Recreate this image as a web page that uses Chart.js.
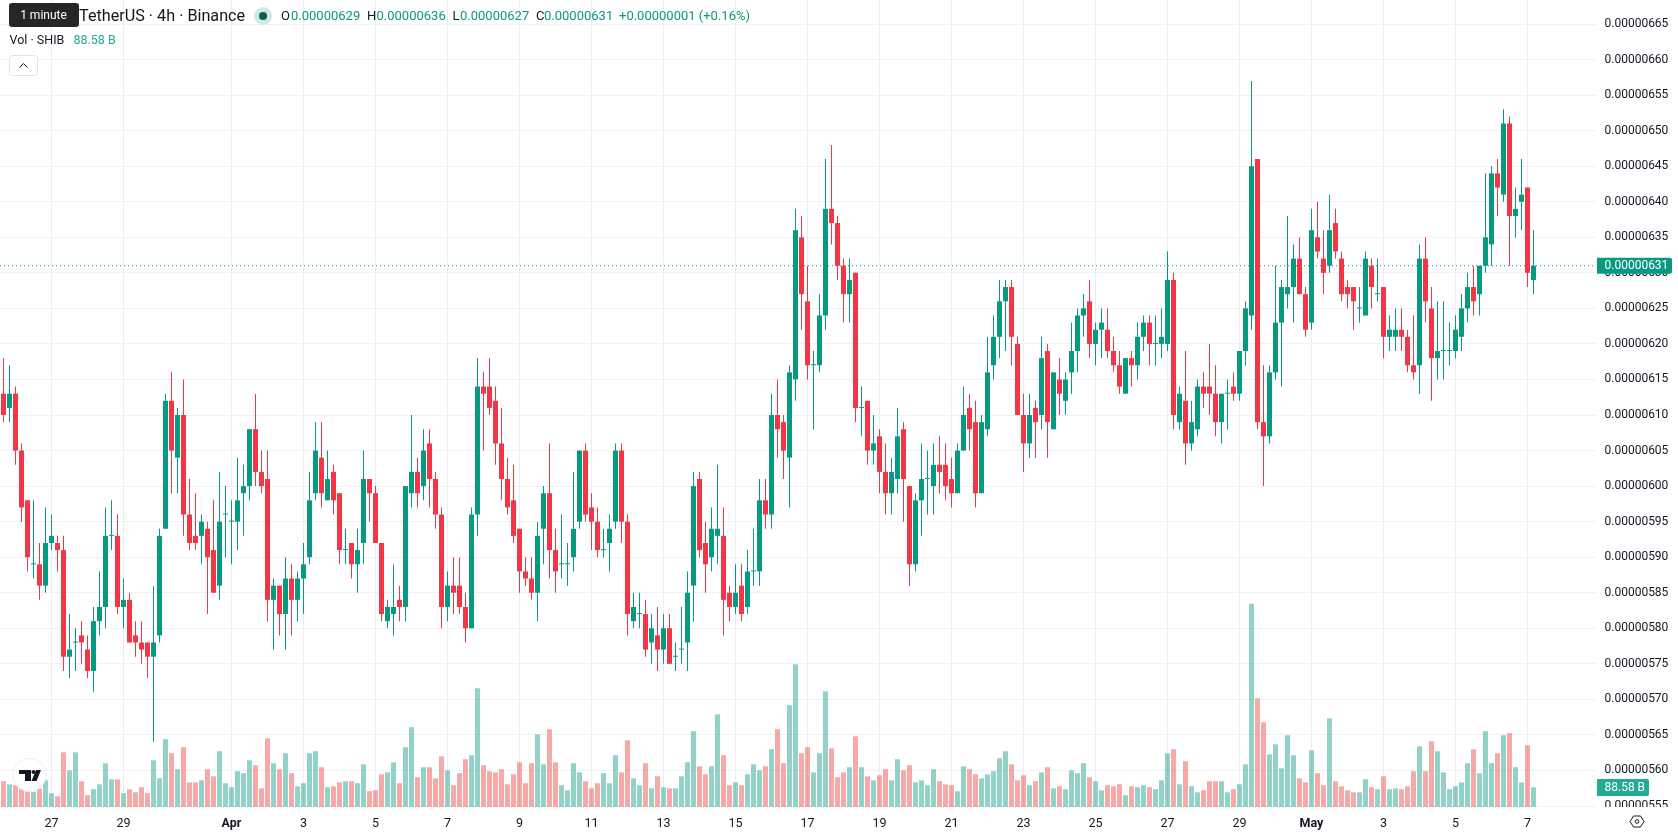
<!DOCTYPE html>
<html>
<head>
<meta charset="utf-8">
<title>SHIB / TetherUS 4h</title>
<script src="https://cdn.jsdelivr.net/npm/chart.js@4/dist/chart.umd.min.js"></script>
<style>
    html, body { margin: 0; padding: 0; background: #fff; overflow: hidden; }
    #wrap { position: relative; width: 1678px; height: 835px; }
</style>
</head>
<body>
<div id="wrap"><canvas id="candleChart"></canvas></div>
<script>
// prices are in units of 0.00000001 USDT, one entry per 4h candle
const opens = [
    613,611,613,605,598,589,589,586,592,592, 591,576,578,579,577,574,581,583,593,593,
    583,584,579,578,578,576,579,594,612,604, 610,596,593,593,594,591,586,596,595,595,
    599,600,608,602,601,584,586,582,587,584, 587,590,599,604,598,602,599,591,592,589,
    592,601,599,592,581,582,584,583,599,602, 600,606,601,596,583,586,586,583,580,596,
    614,614,612,606,601,598,594,588,587,585, 594,599,591,589,589,590,595,605,597,595,
    591,592,595,605,595,581,582,582,578,579, 577,580,576,577,578,586,601,592,590,593,
    593,585,583,586,583,588,588,598,596,610, 609,604,615,635,626,617,617,624,639,637,
    631,627,630,611,612,605,607,602,599,601, 608,600,589,598,601,600,603,603,601,599,
    605,611,609,599,608,617,621,626,628,620, 610,606,611,610,619,608,615,612,616,619,
    624,626,620,622,622,619,617,613,618,617, 621,623,620,620,620,629,609,612,606,608,
    614,614,613,609,613,614,613,619,624,646, 609,607,616,623,627,628,632,627,623,635,
    632,631,637,632,628,628,625,624,631,627, 628,621,621,622,621,617,617,632,625,618,
    619,619,619,621,625,628,627,631,634,644, 641,651,638,640,642,629
];
const highs = [
    618,617,614,606,598,598,592,597,596,593, 593,582,580,581,579,583,588,597,598,596,
    587,585,581,581,578,586,594,613,616,611, 615,601,599,596,595,598,602,600,598,604,
    603,608,613,605,605,587,586,590,589,588, 592,602,609,609,605,603,599,594,592,594,
    605,601,600,592,584,589,586,600,610,604, 608,608,602,597,588,590,590,585,597,618,
    616,618,614,611,604,603,594,590,590,595, 600,606,594,596,592,602,605,606,599,597,
    594,596,606,606,596,585,585,584,582,583, 582,582,578,583,588,602,602,595,597,603,
    597,586,589,589,591,594,601,601,613,615, 610,617,639,638,631,619,627,646,648,638,
    632,632,630,614,612,610,608,606,604,611, 609,600,599,606,605,606,607,606,604,606,
    614,613,612,610,621,624,629,629,629,621, 613,613,612,621,620,616,618,616,623,625,
    627,629,623,625,625,621,619,618,619,623, 624,624,624,625,633,630,614,619,612,615,
    616,620,617,613,615,616,619,626,657,646, 617,617,631,629,638,634,635,628,639,640,
    636,641,639,633,629,628,628,633,632,632, 628,624,625,625,622,624,634,635,628,626,
    626,623,624,627,630,631,631,644,645,646, 653,652,642,646,642,636
];
const lows = [
    609,609,603,595,588,587,584,585,591,588, 574,573,574,575,573,571,579,580,591,582,
    580,578,576,575,573,564,578,594,599,599, 593,591,591,589,582,585,584,590,589,591,
    593,598,600,599,581,577,579,577,579,581, 582,589,598,597,598,596,589,589,587,585,
    589,595,592,581,580,579,581,581,597,597, 598,597,594,580,581,582,582,578,580,593,
    605,610,603,598,596,592,585,586,584,581, 589,587,585,587,586,588,594,595,591,590,
    590,588,594,592,579,580,580,576,575,574, 575,575,574,575,574,581,590,585,588,589,
    579,581,582,581,582,586,586,594,594,604, 601,597,612,622,615,608,616,622,634,629,
    623,623,609,607,603,603,599,596,596,599, 595,586,588,593,596,596,599,598,597,599,
    605,605,597,599,607,615,618,619,617,610, 602,604,604,608,604,608,610,610,613,616,
    621,618,617,618,618,616,613,613,614,615, 619,617,617,618,619,608,608,603,605,607,
    611,610,607,606,608,612,612,617,622,608, 600,606,615,614,625,623,627,621,622,632,
    627,630,632,626,625,622,623,624,625,626, 618,619,619,619,616,615,613,623,612,615,
    615,617,618,619,623,624,624,630,631,638, 640,631,635,636,628,627
];
const closes = [
    610,613,605,597,590,589,586,592,593,591, 576,577,578,578,574,581,583,593,593,583,
    584,578,578,577,576,578,593,612,605,610, 596,592,592,595,590,585,595,596,595,598,
    600,608,602,600,584,586,582,587,584,587, 589,598,605,599,601,598,591,591,589,591,
    601,599,592,582,583,583,583,600,602,599, 605,601,596,583,586,585,583,580,596,614,
    613,611,606,601,597,593,588,587,585,593, 599,591,588,589,589,594,605,596,595,591,
    591,594,605,595,582,583,582,577,580,577, 580,575,576,577,585,600,591,589,594,594,
    584,583,585,582,588,588,598,596,610,608, 605,616,636,627,617,617,624,639,637,631,
    627,629,611,611,605,606,602,599,602,607, 601,589,598,601,601,603,602,600,599,605,
    610,608,599,609,616,621,626,628,621,610, 606,610,609,618,609,616,613,615,619,624,
    625,620,622,623,619,617,614,618,617,621, 623,620,620,621,629,610,613,606,609,614,
    613,613,609,613,613,613,619,625,645,609, 607,616,623,628,628,632,627,622,636,633,
    630,636,633,627,627,626,625,632,628,627, 621,622,622,621,617,616,632,626,618,619,
    619,619,622,625,628,626,631,635,644,642, 651,638,639,641,630,631
];
// volume in billions of SHIB
const volumes = [
    116,102,98,90,83,68,83,120,62,48, 246,165,246,116,53,80,102,197,125,125,
    62,80,66,89,62,210,129,305,242,170, 269,111,111,120,170,138,251,107,89,161,
    152,210,188,84,309,197,170,242,152,93, 107,242,251,179,89,93,111,116,116,107,
    192,71,75,147,156,201,107,269,359,134, 179,179,129,228,165,98,152,215,233,534,
    188,161,156,170,102,147,201,107,197,327, 192,350,201,98,75,197,156,116,84,107,
    152,107,233,156,300,129,98,197,84,138, 89,84,84,138,201,341,183,147,183,417,
    233,98,111,98,147,192,165,183,260,350, 197,458,642,242,269,156,242,521,264,134,
    156,179,318,179,138,120,143,170,120,215, 165,188,111,120,98,170,116,102,98,71,
    183,170,147,129,147,161,219,251,192,120, 143,98,116,156,179,84,93,80,165,152,
    197,134,116,75,98,93,102,53,93,89, 98,89,80,120,242,260,102,206,93,66,
    75,116,116,116,66,80,102,192,914,489, 381,237,282,174,323,233,129,111,255,152,
    98,399,116,93,75,66,66,125,89,80, 138,80,84,80,93,161,273,161,296,251,
    156,80,93,111,197,260,152,341,197,242, 323,332,179,111,278,88.58
];

// candle index under each time axis label
const tickIndexes = [8, 20, 38, 50, 62, 74, 86, 98, 110, 122, 134, 146, 158, 170, 182, 194, 206, 218, 230, 242, 254];
const tickLabels = ["27", "29", "Apr", "3", "5", "7", "9", "11", "13", "15", "17", "19", "21", "23", "25", "27", "29", "May", "3", "5", "7"];
const boldLabels = ["Apr", "May"];

const legendOHLC = ["0.00000629", "0.00000636", "0.00000627", "0.00000631"];
const legendChange = "+0.00000001 (+0.16%)";
const lastVolumeLabel = "88.58 B";

const UP = "#089981";
const DOWN = "#F23645";
const FONT = "Roboto, sans-serif";
const TEXT = "#131722";

const isUp = i => closes[i] >= opens[i];
const candleColors = opens.map((o, i) => isUp(i) ? UP : DOWN);
const volumeColors = opens.map((o, i) => isUp(i) ? "rgba(8,153,129,0.44)" : "rgba(238,76,72,0.48)");

const wicks = opens.map((o, i) => ({ x: i, y: [lows[i], highs[i]] }));
const bodies = opens.map((o, i) => ({ x: i, y: [Math.min(o, closes[i]), Math.max(o, closes[i])] }));
const volumeBars = volumes.map((v, i) => ({ x: i, y: v }));

const formatPrice = v => (v / 1e8).toFixed(8);

// chart area stops at these pixels, the rest belongs to the axes
const PRICE_AXIS_WIDTH = 82;
const TIME_AXIS_HEIGHT = 28;
const X_MIN = -3.5 / 6;
const X_MAX = (1596 - 3.5) / 6;

// wipes the band below the plot so the lowest price label is cut off there
const axisStrip = {
    id: "axisStrip",
    beforeDatasetsDraw(chart) {
        const { ctx, chartArea, width, height } = chart;
        ctx.save();
        ctx.fillStyle = "#fff";
        ctx.fillRect(0, chartArea.bottom, width, height - chartArea.bottom);
        ctx.restore();
    }
};

const drawText = (ctx, text, x, y, color, font) => {
    ctx.font = font;
    ctx.fillStyle = color;
    ctx.fillText(text, x, y);
};

const roundBox = (ctx, x, y, w, h, radii, color) => {
    ctx.beginPath();
    ctx.roundRect(x, y, w, h, radii);
    ctx.fillStyle = color;
    ctx.fill();
};

const drawLegend = ctx => {
    const small = "13px " + FONT;
    drawText(ctx, "TetherUS · 4h · Binance", 79, 16.5, TEXT, "16.2px " + FONT);

    ctx.beginPath();
    ctx.arc(263, 16, 9, 0, Math.PI * 2);
    ctx.fillStyle = "#cfeae6";
    ctx.fill();
    ctx.beginPath();
    ctx.arc(263, 16, 4, 0, Math.PI * 2);
    ctx.fillStyle = "#06634f";
    ctx.fill();

    const names = ["O", "H", "L", "C"];
    const nameX = [281, 367, 452.5, 536];
    const valueX = [291, 376.5, 460, 544];
    names.forEach((name, i) => {
        drawText(ctx, name, nameX[i], 16.5, TEXT, small);
        drawText(ctx, legendOHLC[i], valueX[i], 16.5, UP, small);
    });
    drawText(ctx, legendChange, 619, 16.5, UP, small);

    const volFont = "12.5px " + FONT;
    drawText(ctx, "Vol · SHIB", 9.5, 41, TEXT, volFont);
    drawText(ctx, lastVolumeLabel, 73.5, 41, "#22AB94", volFont);

    // collapse button
    ctx.beginPath();
    ctx.roundRect(9.5, 55.5, 28, 20, 3);
    ctx.fillStyle = "#fff";
    ctx.fill();
    ctx.strokeStyle = "#e0e3eb";
    ctx.lineWidth = 1;
    ctx.stroke();
    ctx.beginPath();
    ctx.moveTo(19.5, 67.5);
    ctx.lineTo(23.5, 63.5);
    ctx.lineTo(27.5, 67.5);
    ctx.strokeStyle = TEXT;
    ctx.stroke();

    // hint box over the start of the title
    roundBox(ctx, 9, 3, 70, 24, 3, "#262626");
    ctx.textAlign = "center";
    drawText(ctx, "1 minute", 43.5, 16, "#fff", "12px " + FONT);
    ctx.textAlign = "left";
};

const drawLogo = ctx => {
    ctx.beginPath();
    ctx.arc(29.5, 775, 16.5, 0, Math.PI * 2);
    ctx.fillStyle = "#fff";
    ctx.fill();
    ctx.strokeStyle = "#eceef2";
    ctx.lineWidth = 1;
    ctx.stroke();
    ctx.fillStyle = "#131722";
    ctx.fillRect(19, 770, 12, 4);
    ctx.fillRect(25, 770, 6, 11);
    ctx.beginPath();
    ctx.arc(33.5, 772, 2, 0, Math.PI * 2);
    ctx.fill();
    ctx.beginPath();
    ctx.moveTo(36, 770);
    ctx.lineTo(41, 770);
    ctx.lineTo(36.5, 781);
    ctx.lineTo(31.5, 781);
    ctx.closePath();
    ctx.fill();
};

const drawSettingsIcon = ctx => {
    const cx = 1637, cy = 821.5;
    ctx.strokeStyle = TEXT;
    ctx.lineWidth = 1;
    ctx.beginPath();
    ctx.moveTo(cx - 7, cy);
    ctx.lineTo(cx - 3.5, cy - 5.5);
    ctx.lineTo(cx + 3.5, cy - 5.5);
    ctx.lineTo(cx + 7, cy);
    ctx.lineTo(cx + 3.5, cy + 5.5);
    ctx.lineTo(cx - 3.5, cy + 5.5);
    ctx.closePath();
    ctx.stroke();
    ctx.beginPath();
    ctx.arc(cx, cy, 1.8, 0, Math.PI * 2);
    ctx.stroke();
};

// legend, last value tags and the small chart furniture
const overlay = {
    id: "overlay",
    afterDraw(chart) {
        const { ctx, scales } = chart;
        ctx.save();
        ctx.textBaseline = "middle";
        ctx.textAlign = "left";

        const lastClose = closes[closes.length - 1];
        const priceY = scales.y.getPixelForValue(lastClose);
        roundBox(ctx, 1597, priceY - 8, 75, 16, [0, 2, 2, 0], UP);
        drawText(ctx, formatPrice(lastClose), 1604.5, priceY + 0.5, "#fff", "12px " + FONT);

        const volumeY = 787.5;
        roundBox(ctx, 1597, volumeY - 8.5, 52, 17, [0, 2, 2, 0], "#22AB94");
        drawText(ctx, lastVolumeLabel, 1604.5, volumeY + 0.5, "#fff", "12px " + FONT);

        drawLegend(ctx);
        drawLogo(ctx);
        drawSettingsIcon(ctx);
        ctx.restore();
    }
};

document.addEventListener("DOMContentLoaded", () => {
    const canvas = document.getElementById("candleChart");
    new Chart(canvas.getContext("2d"), {
        type: "bar",
        data: {
            datasets: [
                {
                    label: "Body",
                    data: bodies,
                    backgroundColor: candleColors,
                    yAxisID: "y",
                    grouped: false,
                    barPercentage: 1,
                    categoryPercentage: 1,
                    maxBarThickness: 5,
                    minBarLength: 1,
                    inflateAmount: 0,
                    order: 1
                },
                {
                    label: "Wick",
                    data: wicks,
                    backgroundColor: candleColors,
                    yAxisID: "y",
                    grouped: false,
                    barPercentage: 1,
                    categoryPercentage: 1,
                    maxBarThickness: 1,
                    inflateAmount: 0,
                    order: 2
                },
                {
                    type: "line",
                    label: "Last price",
                    data: [{ x: X_MIN, y: closes[closes.length - 1] }, { x: X_MAX, y: closes[closes.length - 1] }],
                    yAxisID: "y",
                    borderColor: UP,
                    borderWidth: 1.2,
                    borderDash: [1, 3],
                    pointRadius: 0,
                    order: 3
                },
                {
                    label: "Volume",
                    data: volumeBars,
                    backgroundColor: volumeColors,
                    yAxisID: "volume",
                    grouped: false,
                    barPercentage: 1,
                    categoryPercentage: 1,
                    maxBarThickness: 5,
                    inflateAmount: 0,
                    order: 4
                }
            ]
        },
        options: {
            responsive: true,
            maintainAspectRatio: false,
            animation: false,
            layout: { padding: 0 },
            plugins: {
                legend: { display: false },
                tooltip: { enabled: false }
            },
            scales: {
                x: {
                    type: "linear",
                    offset: false,
                    min: X_MIN,
                    max: X_MAX,
                    afterBuildTicks: scale => {
                        scale.ticks = tickIndexes.map(v => ({ value: v }));
                    },
                    afterFit: scale => {
                        scale.height = TIME_AXIS_HEIGHT;
                        scale.paddingLeft = 0;
                        scale.paddingRight = 0;
                    },
                    grid: { offset: false, color: "#ebecee", lineWidth: 1, drawTicks: false },
                    border: { display: false },
                    ticks: {
                        z: 1,
                        padding: 9,
                        autoSkip: false,
                        maxRotation: 0,
                        color: TEXT,
                        font: ctx => ({
                            family: FONT,
                            size: 12.5,
                            weight: boldLabels.includes(tickLabels[ctx.index]) ? "bold" : "normal"
                        }),
                        callback: (value, index) => tickLabels[index]
                    }
                },
                y: {
                    position: "right",
                    min: 554.86,
                    max: 668.38,
                    afterFit: scale => {
                        scale.width = PRICE_AXIS_WIDTH;
                        scale.paddingTop = 0;
                        scale.paddingBottom = 0;
                    },
                    grid: { color: "#f0f1f2", lineWidth: 1, drawTicks: false },
                    border: { display: false },
                    ticks: {
                        stepSize: 5,
                        includeBounds: false,
                        padding: 8.5,
                        color: TEXT,
                        font: { family: FONT, size: 12 },
                        callback: value => formatPrice(value)
                    }
                },
                volume: {
                    display: false,
                    min: 0,
                    max: 3631
                }
            }
        },
        plugins: [axisStrip, overlay]
    });
});
</script>
</body>
</html>
